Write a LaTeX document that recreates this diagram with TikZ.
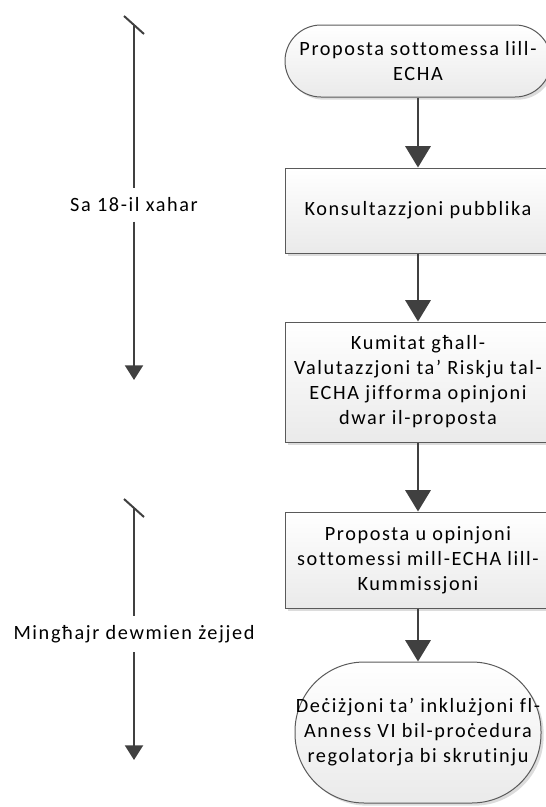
\documentclass[tikz,border=0pt]{standalone}
\usepackage{fontspec}
\setmainfont[LetterSpace=8,Ligatures={NoCommon}]{Carlito}
\usetikzlibrary{arrows.meta,shadows}
\definecolor{edgegray}{HTML}{5A5A5A}
\definecolor{linegray}{HTML}{404040}
\definecolor{fillbot}{HTML}{EAEAEA}
\begin{document}
\begin{tikzpicture}[x=0.75pt,y=-0.75pt,
  lbl/.style={font=\fontsize{15.2}{18.75}\selectfont, align=center, inner sep=0pt},
  flowbox/.style={draw=edgegray, line width=0.75pt, top color=white, bottom color=fillbot,
    align=center, font=\fontsize{15.2}{18.75}\selectfont, inner sep=2pt,
    drop shadow={shadow xshift=2pt, shadow yshift=-2pt, fill=gray!60, opacity=0.45}},
  procbox/.style={flowbox, rectangle, minimum width=199.5pt},
  termbox/.style={flowbox, rectangle, rounded corners=#1},
  conn/.style={draw=linegray, line width=1.5pt, -{Triangle[width=19pt,length=16pt]}},
  timeline/.style={draw=linegray, line width=1.5pt},
  timearrow/.style={timeline, -{Triangle[width=13.5pt,length=11pt]}}
]
\useasboundingbox (0,0) rectangle (546,807);
\clip (0,0) rectangle (546,807);

% flow nodes
\node[termbox=27pt, minimum width=199.5pt, minimum height=54pt] (n1) at (418,61)
  {Proposta sottomessa lill-\\ECHA};
\node[procbox, minimum height=63.75pt] (n2) at (418,210.5) {Konsultazzjoni pubblika};
\node[procbox, minimum height=90pt] (n3) at (418,382)
  {Kumitat għall-\\Valutazzjoni ta’ Riskju tal-\\ECHA jifforma opinjoni\\dwar il-proposta};
\node[procbox, minimum height=72pt] (n4) at (418,560)
  {Proposta u opinjoni\\sottomessi mill-ECHA lill-\\Kummissjoni};
\node[termbox=52pt, minimum width=184.5pt, minimum height=105.75pt, inner sep=0pt] (n5) at (418,732.5)
  {Deċiżjoni ta’ inklużjoni fl-\\Anness VI bil-proċedura\\regolatorja bi skrutinju};

\draw[conn] (n1) -- (n2);
\draw[conn] (n2) -- (n3);
\draw[conn] (n3) -- (n4);
\draw[conn] (n4) -- (n5);

% time lines
\coordinate (s1) at (134,25);
\coordinate (a1) at (124,16);
\coordinate (b1) at (144,34);
\coordinate (e1) at (134,380);
\node[lbl, inner ysep=7pt] (t1) at (134,205) {Sa 18-il xahar};
\draw[timeline] (a1) -- (b1);
\draw[timeline] (s1) -- (t1.north);
\draw[timearrow] (t1.south) -- (e1);

\coordinate (s2) at (134,508);
\coordinate (a2) at (124,499);
\coordinate (b2) at (144,517);
\coordinate (e2) at (134,760);
\node[lbl, inner ysep=7pt] (t2) at (134,634) {Mingħajr dewmien żejjed};
\draw[timeline] (a2) -- (b2);
\draw[timeline] (s2) -- (t2.north);
\draw[timearrow] (t2.south) -- (e2);
\end{tikzpicture}
\end{document}
